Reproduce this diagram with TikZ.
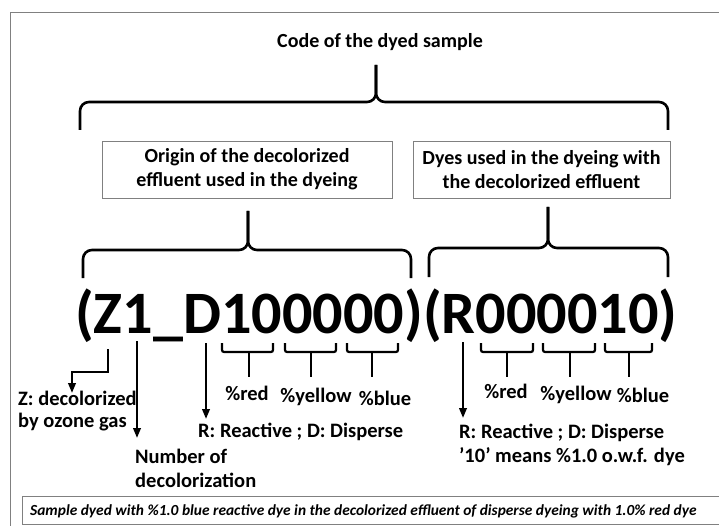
\documentclass[tikz,border=0pt]{standalone}
\usepackage{fontspec}
\setmainfont{Carlito}
\usetikzlibrary{arrows.meta}
\newcommand\bigbrace[6]{%
  \draw[brc] (#1,#4) -- (#1,#5) -- (#3,#5) -- (#3,#6);
  \draw[brc] (#2,#4) -- (#2,#5) -- (#3,#5) -- (#3,#6);}
\newcommand\smallbrace[3]{%
  \draw[sbrc] (#1,343) -- (#1,352) -- (#2,352) -- (#2,343);
  \draw[sbrc,rounded corners=0pt] (#3,352) -- (#3,377);}
\begin{document}
\begin{tikzpicture}[x=1pt,y=-1pt,
  brc/.style={line width=2.6pt, rounded corners=9pt, line cap=butt},
  sbrc/.style={line width=2.2pt, rounded corners=2pt},
  arr/.style={line width=2.2pt, -{Triangle[length=10pt,width=7.5pt]}},
  lbl/.style={font=\bfseries\fontsize{20.5}{24}\selectfont, inner sep=0pt},
  hdr/.style={font=\bfseries\fontsize{20}{24}\selectfont, inner sep=0pt},
  box/.style={draw=gray, line width=0.8pt, align=center, inner sep=0pt,
    font=\bfseries\fontsize{20}{24}\selectfont, minimum height=57pt}]
\useasboundingbox (0,0) rectangle (719,526);
\begin{scope}
\clip (0,0) rectangle (719,526);
\draw[gray, line width=0.8pt] (10,540) -- (10,12) -- (730,12);
\draw[gray, line width=0.8pt] (22,496) rectangle (740,524);
\end{scope}
\node[hdr, anchor=base] (title) at (380,48) {Code of the dyed sample};
\bigbrace{80}{668}{376}{130}{102}{65}
\node[box, minimum width=290pt] (origin) at (247,169.5) {Origin of the decolorized\\effluent used in the dyeing};
\node[box, minimum width=257pt] (dyes) at (541.5,169.5) {Dyes used in the dyeing with\\the decolorized effluent};
\bigbrace{83}{411}{248}{278}{250}{211}
\bigbrace{429}{668}{548}{277}{248}{207}
\node[inner sep=0pt, anchor=base west, font=\bfseries\fontsize{60.2}{61}\selectfont] (code) at (75,333) {(Z1\_D100000)(R000010)};
\smallbrace{222}{273}{249}
\smallbrace{285}{336}{311}
\smallbrace{347}{398}{372}
\smallbrace{481}{533}{507}
\smallbrace{543}{595}{570}
\smallbrace{605}{652}{629}
\node[lbl, anchor=base] (r1) at (247,400) {\%red};
\node[lbl, anchor=base] (y1) at (316,402) {\%yellow};
\node[lbl, anchor=base] (b1) at (385,405) {\%blue};
\node[lbl, anchor=base] (r2) at (506,398) {\%red};
\node[lbl, anchor=base] (y2) at (576,400) {\%yellow};
\node[lbl, anchor=base] (b2) at (643,402) {\%blue};
\node[lbl, anchor=base west] (z1) at (18,405) {Z: decolorized};
\node[lbl, anchor=base west] (z2) at (18,427) {by ozone gas};
\node[lbl, anchor=base west] (n1) at (135,463) {Number of};
\node[lbl, anchor=base west] (n2) at (135,487) {decolorization};
\node[lbl, anchor=base west] (rd1) at (198,437) {R: Reactive ; D: Disperse};
\node[lbl, anchor=base west] (rd2) at (459,438) {R: Reactive ; D: Disperse};
\node[lbl, anchor=base west] (ten) at (459,462) {’10’ means \%1.0 o.w.f. dye};
\node[inner sep=0pt, anchor=base west, font=\bfseries\itshape\fontsize{15.4}{18}\selectfont] (note) at (30,515) {Sample dyed with \%1.0 blue reactive dye in the decolorized effluent of disperse dyeing with 1.0\% red dye};
\coordinate (zs) at (108,349); \coordinate (ze) at (72,393);
\coordinate (os) at (137,341); \coordinate (oe) at (137,438);
\coordinate (ds) at (206,343); \coordinate (de) at (206,419);
\coordinate (rs) at (463,342); \coordinate (re) at (463,418);
\draw[arr] (zs) -- (zs |- 0,372) -- (ze |- 0,372) -- (ze);
\draw[arr] (os) -- (oe);
\draw[arr] (ds) -- (de);
\draw[arr] (rs) -- (re);
\end{tikzpicture}
\end{document}
